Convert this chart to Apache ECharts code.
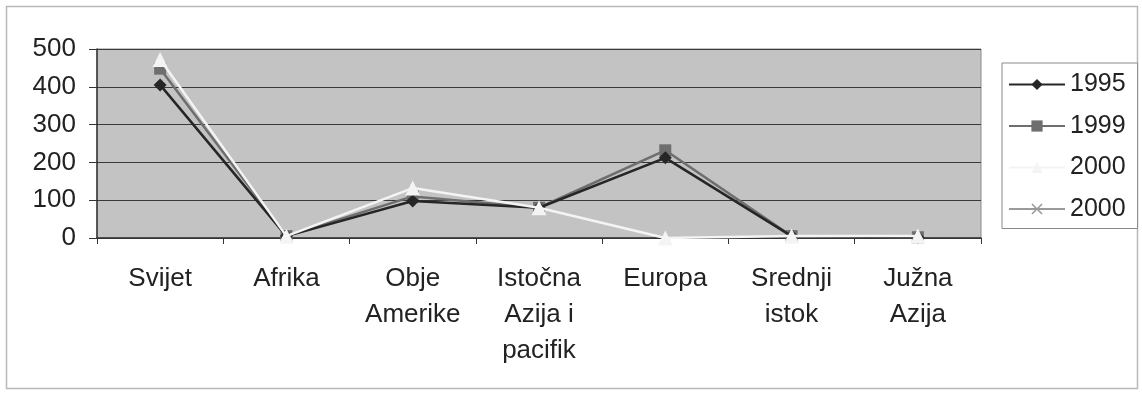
<!DOCTYPE html>
<html>
<head>
<meta charset="utf-8">
<style>
  html, body { margin: 0; padding: 0; background: #ffffff; }
  #chart { width: 1142px; height: 393px; }
</style>
<script src="https://cdn.jsdelivr.net/npm/echarts@6/dist/echarts.min.js"></script>
</head>
<body>
<div id="chart"></div>
<script>
// Regions (category axis)
const categories = ['Svijet', 'Afrika', 'Obje\nAmerike', 'Istočna\nAzija i\npacifik', 'Europa', 'Srednji\nistok', 'Južna\nAzija'];

// Series values by region
const s1995 = [405, 5, 98, 80, 212, 5, 2];
const s1999 = [448, 5, 110, 80, 232, 5, 2];
const s2000a = [472, 5, 132, 80, 0, 5, 5];
const s2000b = [null, null, null, null, null, 3, 1];

const seriesNames = ['1995', '1999', '2000', '2000 '];
const yTicks = { min: 0, max: 500, interval: 100 };

const FONT = "'Liberation Sans', Arial, sans-serif";

const crossPath = 'path://M1,0L5,4L9,0L10,1L6,5L10,9L9,10L5,6L1,10L0,9L4,5L0,1Z';

const chart = echarts.init(document.getElementById('chart'), null, { renderer: 'canvas' });

chart.setOption({
  backgroundColor: '#ffffff',
  animation: false,
  graphic: [{
    type: 'rect',
    shape: { x: 6.5, y: 6.5, width: 1131, height: 382 },
    style: { fill: 'none', stroke: '#b8b8b8', lineWidth: 1.5 },
    silent: true, z: -1
  }],
  grid: {
    left: 97, right: 161, top: 49, bottom: 155,
    show: true, backgroundColor: '#c3c3c3', borderColor: '#8a8a8a', borderWidth: 1
  },
  legend: {
    orient: 'vertical',
    left: 1002, top: 63,
    padding: [9, 5, 7, 6],
    borderColor: '#8a8a8a', borderWidth: 1,
    backgroundColor: '#ffffff',
    itemWidth: 56, itemHeight: 14, itemGap: 16.5,
    textStyle: { fontFamily: FONT, fontSize: 25, color: '#222', lineHeight: 25 },
    data: seriesNames
  },
  xAxis: {
    type: 'category',
    data: categories,
    boundaryGap: true,
    axisLine: { lineStyle: { color: '#333', width: 1.5 } },
    axisTick: { show: true, length: 6, lineStyle: { color: '#333' } },
    axisLabel: {
      interval: 0, margin: 23,
      fontFamily: FONT, fontSize: 26, lineHeight: 36, color: '#222'
    },
    splitLine: { show: false }
  },
  yAxis: {
    type: 'value',
    min: yTicks.min, max: yTicks.max, interval: yTicks.interval,
    axisLine: { show: true, lineStyle: { color: '#333', width: 1.5 } },
    axisTick: { show: true, length: 8, inside: false, lineStyle: { color: '#333' } },
    axisLabel: { fontFamily: FONT, fontSize: 26, color: '#222', margin: 21 },
    splitLine: { show: true, lineStyle: { color: '#3a3a3a', width: 1 } }
  },
  series: [
    {
      name: seriesNames[0], type: 'line', data: s1995,
      symbol: 'diamond', symbolSize: 13,
      lineStyle: { color: '#262626', width: 2.5 },
      itemStyle: { color: '#262626' }, z: 4
    },
    {
      name: seriesNames[1], type: 'line', data: s1999,
      symbol: 'rect', symbolSize: 12,
      lineStyle: { color: '#6e6e6e', width: 2.5 },
      itemStyle: { color: '#6e6e6e' }, z: 3
    },
    {
      name: seriesNames[2], type: 'line', data: s2000a,
      symbol: 'triangle', symbolSize: 15,
      lineStyle: { color: '#f4f4f4', width: 2.5 },
      itemStyle: { color: '#f4f4f4' }, z: 5
    },
    {
      name: seriesNames[3], type: 'line', data: s2000b,
      symbol: crossPath, symbolSize: 12,
      lineStyle: { color: '#9a9a9a', width: 1.5 },
      itemStyle: { color: '#9a9a9a' }, z: 2
    }
  ]
});
</script>
</body>
</html>
